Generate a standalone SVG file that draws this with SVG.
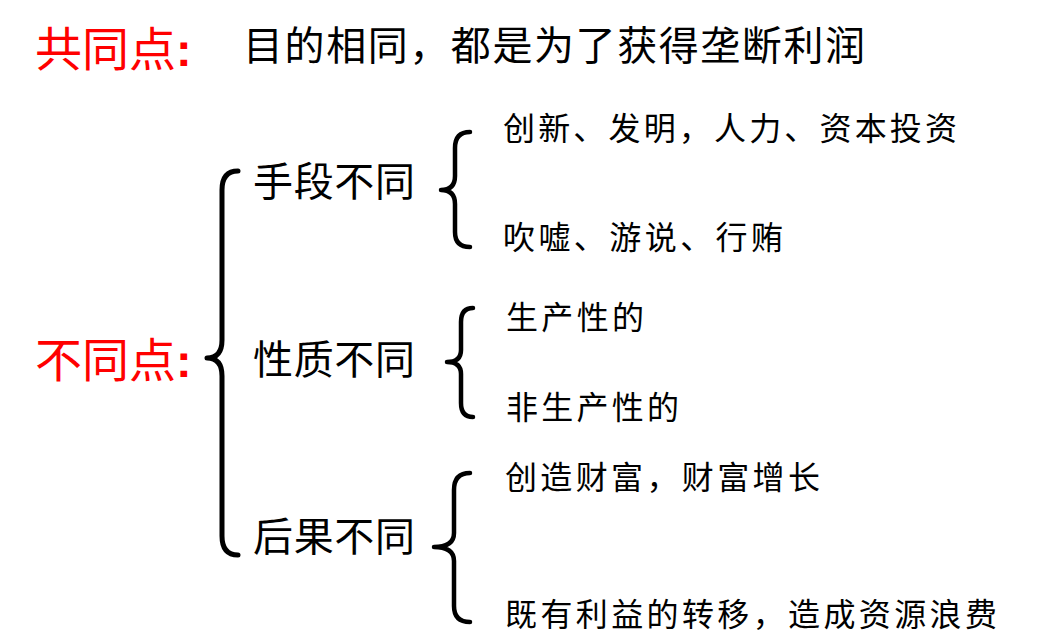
<svg xmlns="http://www.w3.org/2000/svg" width="1038" height="643" viewBox="0 0 1038 643">
<style>
.t{font-family:"Liberation Serif","Noto Sans CJK SC",serif;fill:#000}
.red{fill:#ff0000}
.colon{font-weight:bold;font-family:"Liberation Sans",sans-serif}
.br{fill:none;stroke:#000;stroke-linecap:round;stroke-linejoin:round}
</style>
<rect width="1038" height="643" fill="#fff"/>
<g id="common">
<text class="t red" x="35" y="66" font-size="47">共同点<tspan class="colon">:</tspan></text>
<text class="t" x="243" y="60" font-size="40" textLength="622" lengthAdjust="spacing">目的相同，都是为了获得垄断利润</text>
</g>
<g id="diff">
<text class="t red" x="35" y="377" font-size="47">不同点<tspan class="colon">:</tspan></text>
</g>
<g id="means">
<text class="t" x="253" y="196" font-size="40" textLength="162" lengthAdjust="spacing">手段不同</text>
</g>
<g id="nature">
<text class="t" x="253" y="374" font-size="40" textLength="162" lengthAdjust="spacing">性质不同</text>
</g>
<g id="result">
<text class="t" x="253" y="551" font-size="40" textLength="162" lengthAdjust="spacing">后果不同</text>
</g>
<g id="means-items">
<text class="t" x="503" y="140" font-size="32" textLength="454" lengthAdjust="spacing">创新、发明，人力、资本投资</text>
<text class="t" x="503" y="249" font-size="32" textLength="280" lengthAdjust="spacing">吹嘘、游说、行贿</text>
</g>
<g id="nature-items">
<text class="t" x="506" y="329" font-size="32" textLength="138" lengthAdjust="spacing">生产性的</text>
<text class="t" x="506" y="419" font-size="32" textLength="173" lengthAdjust="spacing">非生产性的</text>
</g>
<g id="result-items">
<text class="t" x="505" y="489" font-size="32" textLength="315" lengthAdjust="spacing">创造财富，财富增长</text>
<text class="t" x="505" y="626" font-size="32" textLength="492" lengthAdjust="spacing">既有利益的转移，造成资源浪费</text>
</g>
<g id="connectors">
<path class="br" stroke-width="5" d="M238,171 Q222,171 222,190 L222,340 Q222,358 207,358 Q222,358 222,376 L222,536 Q222,555 238,555"/>
<path class="br" stroke-width="4.5" d="M470,132 Q455,132 455,148 L455,176 Q455,190 441,190 Q455,190 455,204 L455,232 Q455,247 470,247"/>
<path class="br" stroke-width="4.5" d="M473,308 Q461,308 461,322 L461,350 Q461,362 447,362 Q461,362 461,374 L461,403 Q461,417 473,417"/>
<path class="br" stroke-width="4.5" d="M470,473 Q454,473 454,490 L454,533 Q454,547 434,547 Q454,547 454,561 L454,606 Q454,622 470,622"/>
</g>
</svg>
